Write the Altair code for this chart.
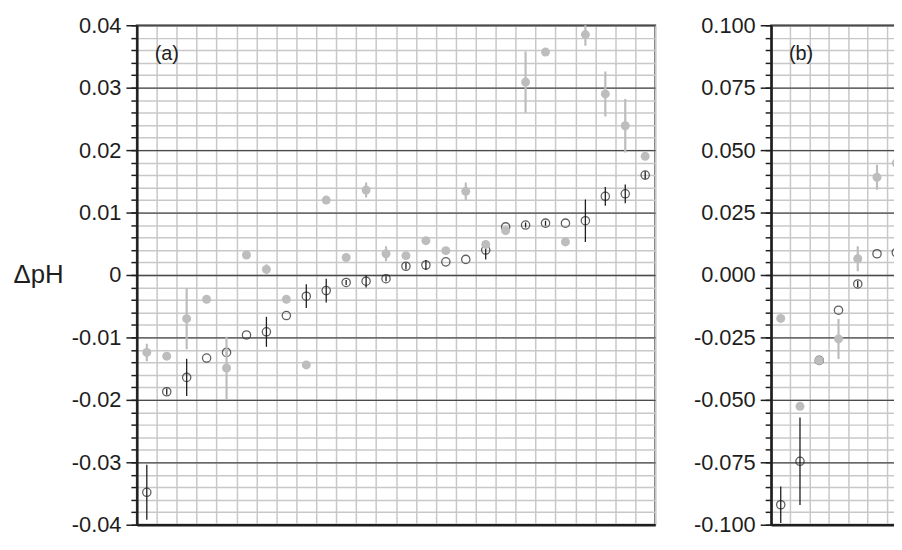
import altair as alt
import pandas as pd

# ---------------- data ----------------
# panel (a): 26 samples
open_a = [-0.0348, -0.0187, -0.0164, -0.0133, -0.0124, -0.0096, -0.0091, -0.0065,
          -0.0034, -0.0025, -0.0012, -0.0010, -0.0006, 0.0014, 0.0016, 0.0021,
          0.0025, 0.0040, 0.0077, 0.0080, 0.0083, 0.0083, 0.0087, 0.0126,
          0.0130, 0.0160]
open_a_err = [0.0044, 0.0005, 0.0030, 0.0, 0.0004, 0.0, 0.0024, 0.0,
              0.0019, 0.0019, 0.0004, 0.0010, 0.0004, 0.0005, 0.0008, 0.0,
              0.0, 0.0015, 0.0, 0.0004, 0.0004, 0.0, 0.0034, 0.0015,
              0.0015, 0.0006]
filled_a = [-0.0124, -0.0130, -0.0070, -0.0039, -0.0149, 0.0032, 0.0009, -0.0039,
            -0.0144, 0.0120, 0.0028, 0.0136, 0.0034, 0.0031, 0.0055, 0.0039,
            0.0134, 0.0049, 0.0071, 0.0309, 0.0357, 0.0053, 0.0385, 0.0290,
            0.0239, 0.0190]
filled_a_err = [0.0014, 0.0006, 0.0049, 0.0, 0.0050, 0.0, 0.0008, 0.0,
                0.0, 0.0005, 0.0, 0.0012, 0.0012, 0.0006, 0.0, 0.0,
                0.0014, 0.0004, 0.0, 0.0049, 0.0, 0.0, 0.0018, 0.0036,
                0.0043, 0.0]

# panel (b): visible samples (the panel is cut by the page edge)
open_b = [-0.0920, -0.0746, -0.0342, -0.0141, -0.0036, 0.0085, 0.0090]
open_b_err = [0.0073, 0.0175, 0.0, 0.0, 0.0012, 0.0, 0.0160]
filled_b = [-0.0174, -0.0526, -0.0342, -0.0256, 0.0065, 0.0391, 0.0448]
filled_b_err = [0.0, 0.0, 0.0, 0.0080, 0.0050, 0.0050, 0.0170]

panel_labels = ["(a)", "(b)"]
y_title = "ΔpH"

FONT = "Liberation Sans"
INK = "#1e1e1e"
GRAY_PT = "#bdbdbd"
MINOR_GRID = "#c8c8c8"
MAJOR_GRID = "#4a4a4a"
H = 504


def rows(vals, errs, series):
    out = []
    for i, (v, e) in enumerate(zip(vals, errs)):
        out.append({"pos": i + 0.5, "val": v, "lo": v - e, "hi": v + e,
                    "err": e, "series": series})
    return out


def panel(opn, opn_err, fil, fil_err, lim, major, minor, ncols, width, height,
          tag, label_expr, title):
    df = pd.DataFrame(rows(opn, opn_err, "open") + rows(fil, fil_err, "filled"))
    xs = alt.Scale(domain=[0, ncols], nice=False, zero=False)
    ys = alt.Scale(domain=[-lim, lim], nice=False, zero=False)
    nmin = int(round(2 * lim / minor))
    nmaj = int(round(2 * lim / major))
    minor_vals = [round(-lim + k * minor, 6) for k in range(nmin + 1)]
    major_vals = [round(-lim + k * major, 6) for k in range(nmaj + 1)]

    base = alt.Chart(df)

    # invisible layer hosting the light grid + minor ticks
    grid_layer = base.mark_point(opacity=0).encode(
        x=alt.X("pos:Q", scale=xs,
                axis=alt.Axis(values=list(range(ncols + 1)), grid=True,
                              gridColor=MINOR_GRID, gridWidth=1.5,
                              labels=False, ticks=False, domain=True,
                              domainColor=INK, domainWidth=2.5, title=None)),
        y=alt.Y("val:Q", scale=ys,
                axis=alt.Axis(orient="left", values=minor_vals, grid=True,
                              gridColor=MINOR_GRID, gridWidth=1.5,
                              labels=False, tickSize=6, tickColor=INK,
                              tickWidth=1.5, domain=False, title=None)),
    )

    yaxis_kw = dict(orient="left", values=major_vals, grid=True,
                    gridColor=MAJOR_GRID, gridWidth=1.3, tickSize=11,
                    tickColor=INK, tickWidth=1.5, domain=True,
                    domainColor=INK, domainWidth=2.5, labelFont=FONT,
                    labelFontSize=22, labelColor=INK, labelPadding=5,
                    labelExpr=label_expr)
    if title:
        yaxis_kw.update(title=title, titleAngle=0, titleX=-125,
                        titleY=height / 2, titleAlign="left",
                        titleBaseline="middle", titleFont=FONT,
                        titleFontSize=26, titleFontWeight="normal",
                        titleColor=INK)
    else:
        yaxis_kw.update(title=None)

    open_df = base.transform_filter("datum.series == 'open'")
    fill_df = base.transform_filter("datum.series == 'filled'")

    open_bars = open_df.transform_filter("datum.err > 0").mark_rule(
        color=INK, strokeWidth=1.3, clip=True).encode(
        x=alt.X("pos:Q", scale=xs, axis=None),
        y=alt.Y("lo:Q", scale=ys, axis=alt.Axis(**yaxis_kw)),
        y2="hi:Q",
    )
    open_pts = open_df.mark_point(shape="circle", filled=False, size=70,
                                  color=INK, strokeWidth=1.3).encode(
        x=alt.X("pos:Q", scale=xs, axis=None),
        y=alt.Y("val:Q", scale=ys, axis=None),
    )
    fill_bars = fill_df.transform_filter("datum.err > 0").mark_rule(
        color=GRAY_PT, strokeWidth=2.2, clip=True).encode(
        x=alt.X("pos:Q", scale=xs, axis=None),
        y=alt.Y("lo:Q", scale=ys, axis=None),
        y2="hi:Q",
    )
    fill_pts = fill_df.mark_circle(size=82, color=GRAY_PT, opacity=1).encode(
        x=alt.X("pos:Q", scale=xs, axis=None),
        y=alt.Y("val:Q", scale=ys, axis=None),
    )
    tag_layer = alt.Chart(pd.DataFrame({"t": [tag]})).mark_text(
        font=FONT, fontSize=20, color=INK, align="left", baseline="middle"
    ).encode(text="t:N", x=alt.value(18), y=alt.value(29))

    return alt.layer(grid_layer, open_bars, open_pts, fill_bars, fill_pts,
                     tag_layer).resolve_axis(y="independent", x="independent").properties(
        width=width, height=height)


minus_fix = "replace(format(datum.value, '{f}'), '\u2212', '-')"
expr_a = "datum.value == 0 ? '0' : " + minus_fix.format(f=".2f")
expr_b = minus_fix.format(f=".3f")

pa = panel(open_a, open_a_err, filled_a, filled_a_err, 0.04, 0.01, 0.002,
           26, 523, H, panel_labels[0], expr_a, y_title)
pb = panel(open_b, open_b_err, filled_b, filled_b_err, 0.1, 0.025, 0.005,
           7, 136, H, panel_labels[1], expr_b, None)

chart = alt.hconcat(pa, pb, spacing=36).properties(
    padding={"left": 4, "top": 3, "right": -13, "bottom": 0},
    background="white",
).configure_view(stroke="#6a6a6a", strokeWidth=2)

chart.save("out.html", embed_options={"renderer": "svg", "actions": False})
